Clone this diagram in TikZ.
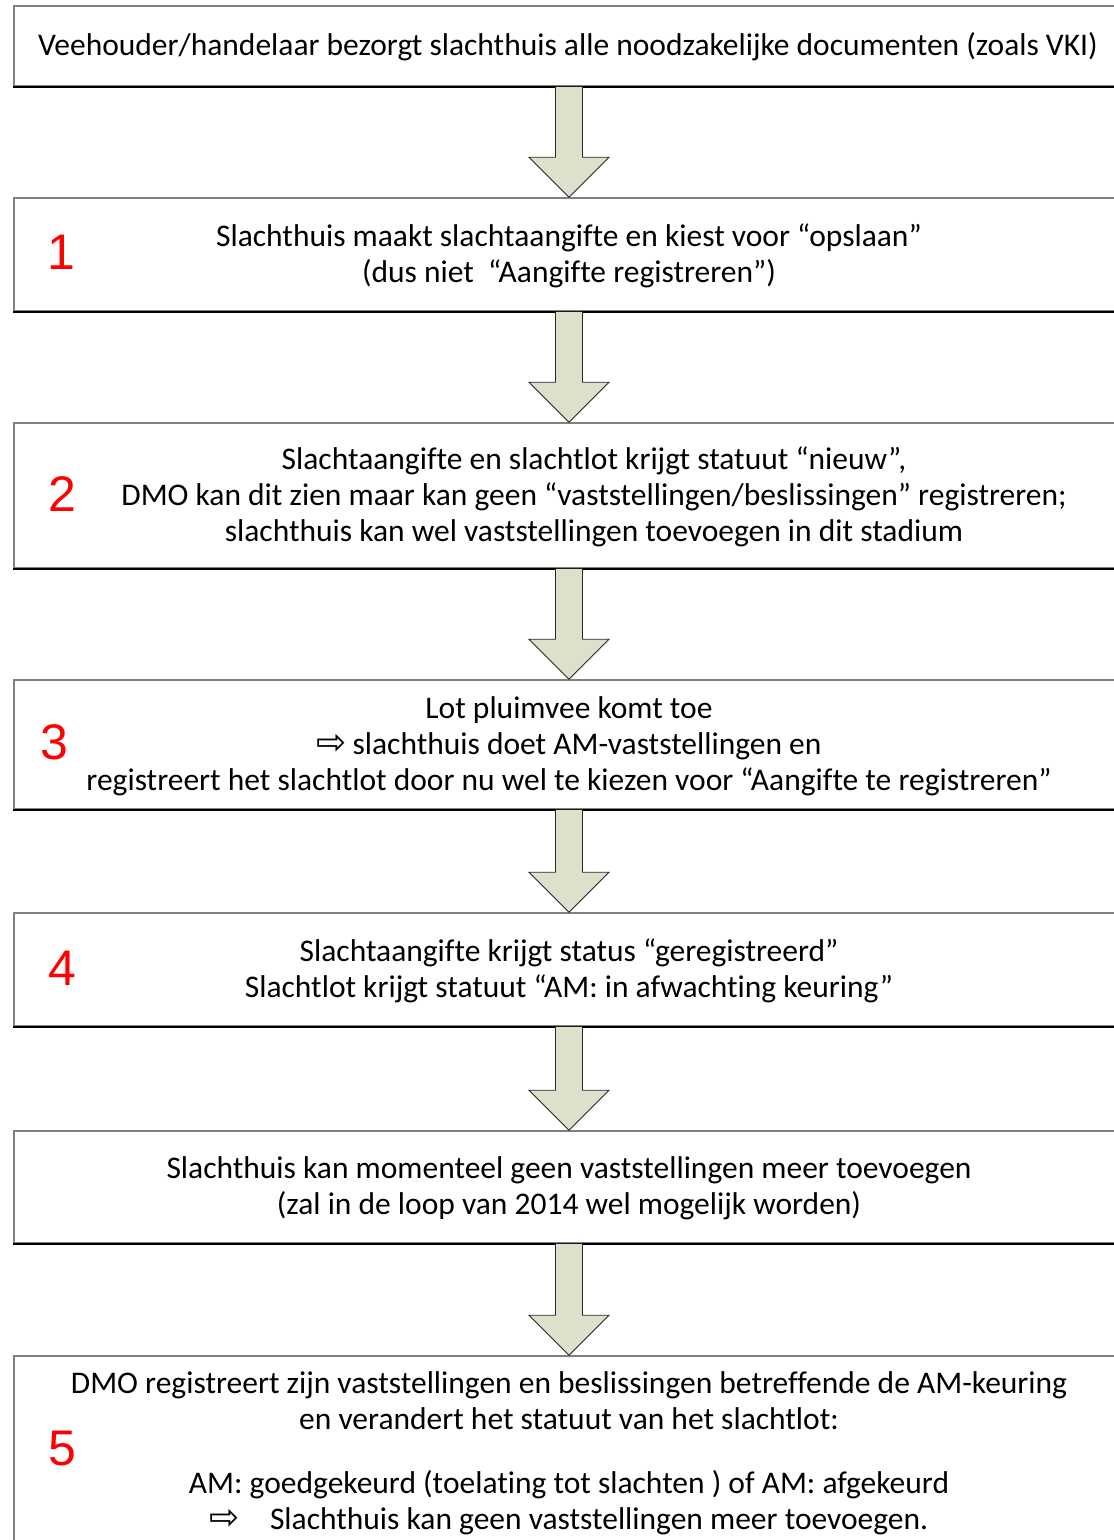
\documentclass[tikz,border=0pt]{standalone}
\usepackage{fontspec}
\setmainfont{Carlito}[Ligatures=NoCommon]
\newfontfamily\numfont{Liberation Sans}
\newfontfamily\symfont{DejaVu Sans}
\usetikzlibrary{calc}
\definecolor{arrowfill}{RGB}{221,224,203}
\tikzset{
  box/.style={draw=gray, line width=1.5pt, minimum width=1110pt, inner sep=0pt},
  txt/.style={align=center, inner sep=0pt, font=\fontsize{31.5}{36}\selectfont},
  num/.style={text=red, inner sep=0pt, font=\numfont\fontsize{50}{60}\selectfont},
  blockarrow/.style={draw=black!85, fill=arrowfill, line width=0.8pt, line join=miter}
}
\newcommand{\hollowarrow}{{\symfont\fontsize{36}{36}\selectfont\char"21E8}}
\begin{document}
\begin{tikzpicture}[x=1pt,y=-1pt]
\useasboundingbox (0,0) rectangle (1114,1540);
\begin{scope}[every node/.style={box}]
  \node[minimum height=80pt] (b0) at (569,46) {};
  \node[minimum height=113pt] (b1) at (569,254.5) {};
  \node[minimum height=145pt] (b2) at (569,495.5) {};
  \node[minimum height=129pt] (b3) at (569,744.5) {};
  \node[minimum height=113pt] (b4) at (569,969.5) {};
  \node[minimum height=112pt] (b5) at (569,1187) {};
  \node[minimum height=204pt] (b6) at (569,1458) {};
\end{scope}

\foreach \b in {b0,b1,b2,b3,b4,b5}
  \draw[line width=1.5pt] (\b.south west) -- (\b.south east);

\foreach \a/\b in {b0/b1,b1/b2,b2/b3,b3/b4,b4/b5,b5/b6}
  \draw[blockarrow] let \p1=(\a.south), \p2=(\b.north) in
    (\x1-13.5pt,\y1) -- (\x1-13.5pt,\y2+40pt) -- (\x1-40pt,\y2+40pt) -- (\x1,\y2)
    -- (\x1+40pt,\y2+40pt) -- (\x1+13.5pt,\y2+40pt) -- (\x1+13.5pt,\y1);

\node[txt] (t0) at (568,47) {Veehouder/handelaar bezorgt slachthuis alle noodzakelijke documenten (zoals VKI)};
\node[txt] (t1) at (569,256) {Slachthuis maakt slachtaangifte en kiest voor “opslaan”\\
  (dus niet\ \ “Aangifte registreren”)};
\node[txt] (t2) at (594,497) {Slachtaangifte en slachtlot krijgt statuut “nieuw”,\\
  DMO kan dit zien maar kan geen “vaststellingen/beslissingen” registreren;\\
  slachthuis kan wel vaststellingen toevoegen in dit stadium};
\node[txt] (t3) at (569,746) {Lot pluimvee komt toe\\
  \hollowarrow\hspace{6pt}slachthuis doet AM-vaststellingen en\\
  registreert het slachtlot door nu wel te kiezen voor “Aangifte te registreren”};
\node[txt] (t4) at (569,971) {Slachtaangifte krijgt status “geregistreerd”\\
  Slachtlot krijgt statuut “AM: in afwachting keuring”};
\node[txt] (t5) at (569,1188) {Slachthuis kan momenteel geen vaststellingen meer toevoegen\\
  (zal in de loop van 2014 wel mogelijk worden)};
\node[txt] (t6) at (569,1453) {DMO registreert zijn vaststellingen en beslissingen betreffende de AM-keuring\\
  en verandert het statuut van het slachtlot:\\[28pt]
  AM: goedgekeurd (toelating tot slachten ) of AM: afgekeurd\\
  \hollowarrow\hspace{30pt}Slachthuis kan geen vaststellingen meer toevoegen.};

\node[num] (n1) at (61,252) {1};
\node[num] (n2) at (62,494) {2};
\node[num] (n3) at (54,742) {3};
\node[num] (n4) at (62,968) {4};
\node[num] (n5) at (62,1449) {5};
\end{tikzpicture}
\end{document}
